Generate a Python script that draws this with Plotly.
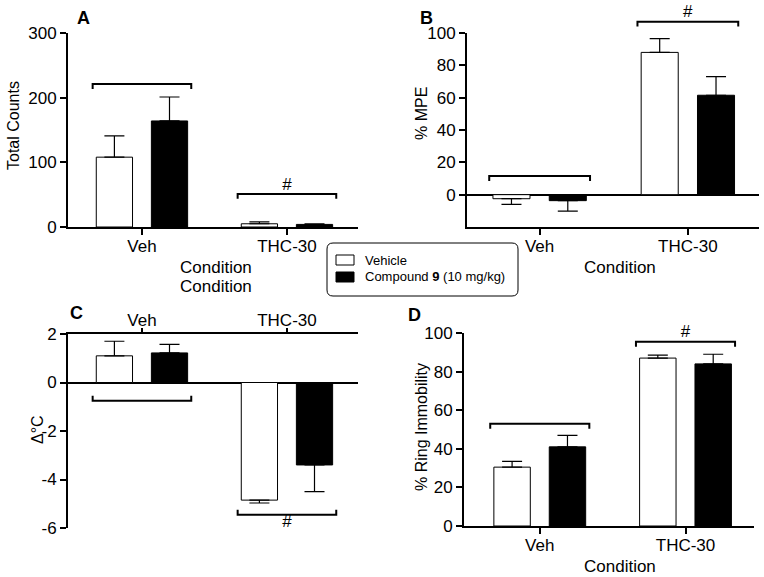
import plotly.graph_objects as go

W, H = 764, 577

conditions = ["Veh", "THC-30"]
series_names = ["Vehicle", "Compound 9 (10 mg/kg)"]
series_fill = ["white", "black"]

# Panel A: Total Counts
a_mean = {"Vehicle": [108, 5], "Compound": [164, 4]}
a_sem = {"Vehicle": [33, 3], "Compound": [37, 1]}
# Panel B: % MPE
b_mean = {"Vehicle": [-2.5, 88], "Compound": [-3.7, 61.5]}
b_sem = {"Vehicle": [3.5, 8.5], "Compound": [6.5, 11.5]}
# Panel C: delta deg C
c_mean = {"Vehicle": [1.1, -4.85], "Compound": [1.22, -3.4]}
c_sem = {"Vehicle": [0.6, 0.12], "Compound": [0.35, 1.1]}
# Panel D: % Ring Immobility
d_mean = {"Vehicle": [30.5, 87], "Compound": [41, 84]}
d_sem = {"Vehicle": [3, 1.5], "Compound": [6, 5]}

# tick labels
a_ticks = [0, 100, 200, 300]
b_ticks = [0, 20, 40, 60, 80, 100]
c_ticks = [-6, -4, -2, 0, 2]
d_ticks = [0, 20, 40, 60, 80, 100]

# significance brackets: heights per condition, and marker text
a_bracket = [221, 51]
a_mark = ["", "#"]
b_bracket = [11.5, 107]
b_mark = ["", "#"]
c_bracket = [-0.75, -5.45]
c_mark = ["", "#"]
d_bracket = [53, 95.5]
d_mark = ["", "#"]

FONT = "Liberation Sans, Arial, sans-serif"
CLEAR = "rgba(0,0,0,0)"


def px_x(p):
    return p / W


def px_y(p):
    return 1 - p / H


fig = go.Figure()

panels = [
    ("x", "y", "y", a_mean, a_sem, a_bracket, a_mark, 7.5, 1),
    ("x2", "y2", "y5", b_mean, b_sem, b_bracket, b_mark, 3.0, 1),
    ("x3", "y3", "y3", c_mean, c_sem, c_bracket, c_mark, 0.2, -1),
    ("x4", "y4", "y4", d_mean, d_sem, d_bracket, d_mark, 2.6, 1),
]

xpos = list(range(len(conditions)))
offsets = [-0.19, 0.19]
bar_w = 0.25
half_span = 0.34

for xa, ya, yb, means, sems, brk, marks, tick, direction in panels:
    for i, key in enumerate(["Vehicle", "Compound"]):
        m = means[key]
        s = sems[key]
        plus = [e if v >= 0 else 0 for v, e in zip(m, s)]
        minus = [e if v < 0 else 0 for v, e in zip(m, s)]
        fig.add_trace(go.Bar(
            x=[p + offsets[i] for p in xpos], y=m, width=bar_w,
            xaxis=xa, yaxis=ya, showlegend=False,
            marker=dict(color=series_fill[i], line=dict(color="black", width=1)),
            error_y=dict(type="data", symmetric=False, array=plus, arrayminus=minus,
                         color="black", thickness=1.2, width=10),
        ))
    for p, h, mk in zip(xpos, brk, marks):
        t = -tick * direction
        fig.add_trace(go.Scatter(
            x=[p - half_span, p - half_span, p + half_span, p + half_span],
            y=[h + t, h, h, h + t], mode="lines",
            line=dict(color="black", width=2), xaxis=xa, yaxis=yb,
            showlegend=False, hoverinfo="skip", cliponaxis=False,
        ))
        if mk:
            fig.add_trace(go.Scatter(
                x=[p], y=[h], mode="text", text=[mk],
                textposition="top center" if direction > 0 else "bottom center",
                textfont=dict(size=17, color="black", family=FONT),
                xaxis=xa, yaxis=yb, showlegend=False, hoverinfo="skip", cliponaxis=False,
            ))

axis_common = dict(showline=True, linecolor="black", linewidth=2, ticks="outside",
                   tickcolor="black", tickwidth=2, ticklen=6, showgrid=False,
                   automargin=False,
                   tickfont=dict(size=17, color="black", family=FONT))
xaxis_common = dict(axis_common, tickvals=xpos, ticktext=conditions,
                    range=[-0.51, 1.49], zeroline=False, ticklabelstandoff=-3)


def yticks(vals):
    return dict(tickvals=vals, ticktext=[str(v).replace("−", "-") for v in vals])


dom_top = [px_y(227), px_y(33)]
b_range = [-20, 100]
b_ext_top_px = 5
b_ext_top = b_range[0] + (227 - b_ext_top_px) * (b_range[1] - b_range[0]) / (227 - 33)

fig.update_layout(
    width=W, height=H, margin=dict(l=0, r=0, t=0, b=0),
    paper_bgcolor="white", plot_bgcolor=CLEAR,
    barmode="overlay", showlegend=False,
    font=dict(family=FONT, color="black"),
    xaxis=dict(xaxis_common, domain=[px_x(68), px_x(358)], anchor="y"),
    yaxis=dict(axis_common, **yticks(a_ticks), domain=dom_top, range=[0, 300],
               anchor="x", zeroline=False),
    xaxis2=dict(xaxis_common, domain=[px_x(467), px_x(759)], anchor="y2", range=[-0.49, 1.48]),
    yaxis2=dict(axis_common, **yticks(b_ticks), domain=dom_top, range=b_range, anchor="x2",
                zeroline=True, zerolinecolor="black", zerolinewidth=2),
    yaxis5=dict(domain=[px_y(227), px_y(b_ext_top_px)], range=[b_range[0], b_ext_top],
                visible=False, anchor="x2", automargin=False, showgrid=False, zeroline=False),
    xaxis3=dict(xaxis_common, domain=[px_x(68), px_x(358)], anchor="y3", side="top",
                ticklen=4, ticklabelstandoff=-5),
    yaxis3=dict(axis_common, **yticks(c_ticks), domain=[px_y(528), px_y(334)], range=[-6, 2],
                anchor="x3", zeroline=True, zerolinecolor="black", zerolinewidth=2),
    xaxis4=dict(xaxis_common, domain=[px_x(464), px_x(754)], anchor="y4", range=[-0.52, 1.47]),
    yaxis4=dict(axis_common, **yticks(d_ticks), domain=[px_y(526), px_y(333)], range=[0, 100],
                anchor="x4", zeroline=False),
)


def ann(text, x, y, size=15, angle=0, xanchor="center"):
    fig.add_annotation(xref="paper", yref="paper", x=px_x(x), y=px_y(y), text=text,
                       showarrow=False, textangle=angle, xanchor=xanchor, yanchor="middle",
                       font=dict(size=size, color="black", family=FONT))

# panel letters
for letter, x, y in [("A", 83, 18), ("B", 426, 18), ("C", 76, 313), ("D", 414, 315)]:
    ann("<b>" + letter + "</b>", x, y, size=18)

# axis titles
ann("Condition", 216, 267, size=17)
ann("Condition", 216, 286, size=17)
ann("Condition", 620, 267, size=17)
ann("Condition", 620, 566, size=17)
ann("Total Counts", 14, 126, size=16, angle=-90)
ann("% MPE", 421, 114, size=16, angle=-90)
ann("Δ°C", 37, 430, size=16, angle=-90)
ann("% Ring Immobility", 421, 427, size=16, angle=-90)

# legend box with rounded corners
x0, x1, y0, y1, r = 327, 518, 243, 296, 6
path = (f"M {px_x(x0 + r)},{px_y(y0)} L {px_x(x1 - r)},{px_y(y0)} "
        f"Q {px_x(x1)},{px_y(y0)} {px_x(x1)},{px_y(y0 + r)} "
        f"L {px_x(x1)},{px_y(y1 - r)} Q {px_x(x1)},{px_y(y1)} {px_x(x1 - r)},{px_y(y1)} "
        f"L {px_x(x0 + r)},{px_y(y1)} Q {px_x(x0)},{px_y(y1)} {px_x(x0)},{px_y(y1 - r)} "
        f"L {px_x(x0)},{px_y(y0 + r)} Q {px_x(x0)},{px_y(y0)} {px_x(x0 + r)},{px_y(y0)} Z")
fig.add_shape(type="path", path=path, xref="paper", yref="paper",
              line=dict(color="black", width=1), fillcolor="white")
for i, (name, fill) in enumerate(zip(series_names, series_fill)):
    cy = 260 + 17 * i
    fig.add_shape(type="rect", xref="paper", yref="paper",
                  x0=px_x(336), x1=px_x(354), y0=px_y(cy - 5), y1=px_y(cy + 5),
                  fillcolor=fill, line=dict(color="black", width=1))
    label = name.replace(" 9 ", " <b>9</b> ")
    ann(label, 363, cy, size=13, xanchor="left")

fig.write_html("out.html", config={"displayModeBar": False},
               post_script="document.body.style.margin='0px';")
